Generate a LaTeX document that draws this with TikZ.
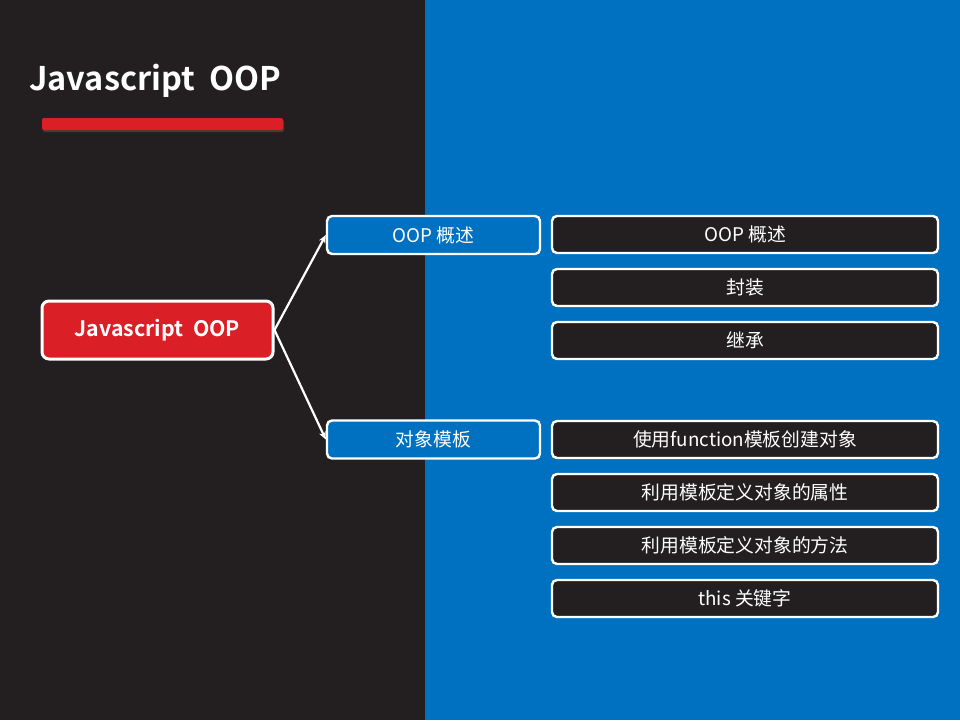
\documentclass[tikz,border=0pt]{standalone}
\usepackage{fontspec}
\setmainfont{Noto Sans CJK SC}[BoldFont={Noto Sans CJK SC Bold}]
\usetikzlibrary{arrows.meta,shadows}
\definecolor{darkbg}{HTML}{231F20}
\definecolor{bluebg}{HTML}{0070C0}
\definecolor{redc}{HTML}{DA1F26}
\tikzset{
  rootbox/.style={draw=white,line width=3pt,fill=redc,rounded corners=7pt,minimum width=231pt,minimum height=58pt,text=white,font=\bfseries\fontsize{21.3}{25}\selectfont,inner sep=0pt},
  midbox/.style={draw=white,line width=2.4pt,fill=bluebg,rounded corners=5pt,minimum width=213pt,minimum height=38pt,text=white,font=\fontsize{18.8}{22}\selectfont,inner sep=0pt},
  leafbox/.style={draw=white,line width=2.4pt,fill=darkbg,rounded corners=5pt,minimum width=386pt,minimum height=37pt,text=white,font=\fontsize{18.8}{22}\selectfont,inner sep=0pt},
  link/.style={draw=white,line width=2.2pt,-{Stealth[length=8pt,width=7pt]}}
}
\begin{document}
\begin{tikzpicture}[x=1pt,y=-1pt]
\useasboundingbox (0,0) rectangle (960,720);
\fill[darkbg] (0,0) rectangle (425,720);
\fill[bluebg] (425,0) rectangle (960,720);
% title
\node[anchor=west,text=white,font=\bfseries\fontsize{32.5}{38}\selectfont,inner sep=0pt] (title) at (29,81) {Javascript\ \ OOP};
\fill[redc,rounded corners=2pt,drop shadow={shadow xshift=1pt,shadow yshift=-2pt,opacity=0.3}] (42,118) rectangle (283,130);
% root
\node[rootbox] (root) at (157.5,330) {Javascript\ \ OOP};
% middle
\node[midbox] (m1) at (433.5,235) {OOP 概述};
\node[midbox] (m2) at (433.5,439.5) {对象模板};
% leaves
\node[leafbox] (a1) at (745,234.5) {OOP 概述};
\node[leafbox] (a2) at (745,287.5) {封装};
\node[leafbox] (a3) at (745,340.5) {继承};
\node[leafbox] (b1) at (745,439.5) {使用function模板创建对象};
\node[leafbox] (b2) at (745,492.5) {利用模板定义对象的属性};
\node[leafbox] (b3) at (745,545.5) {利用模板定义对象的方法};
\node[leafbox] (b4) at (745,598.5) {this 关键字};
% links
\draw[link] (root.east) -- (m1.west);
\draw[link] (root.east) -- (m2.west);
\end{tikzpicture}
\end{document}
